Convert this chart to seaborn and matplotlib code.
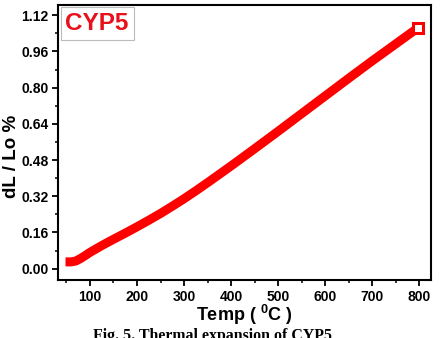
import numpy as np
import pandas as pd
import matplotlib
matplotlib.use("Agg")
import matplotlib.pyplot as plt
import seaborn as sns
from matplotlib.ticker import MultipleLocator

temp = [48, 60, 70, 80, 90, 100, 125, 150, 175, 200, 225, 250, 275, 300, 325,
        350, 375, 400, 450, 500, 550, 600, 650, 700, 750, 798]
dl = [0.030, 0.030, 0.034, 0.045, 0.058, 0.072, 0.102, 0.130, 0.157, 0.185,
      0.214, 0.244, 0.276, 0.309, 0.344, 0.380, 0.417, 0.454, 0.530, 0.607,
      0.685, 0.763, 0.841, 0.918, 0.993, 1.065]
x_ticks = [100, 200, 300, 400, 500, 600, 700, 800]
y_ticks = [0.00, 0.16, 0.32, 0.48, 0.64, 0.80, 0.96, 1.12]

sns.set_style("ticks")
plt.rcParams['font.family'] = ['Liberation Sans', 'DejaVu Sans']
plt.rcParams['mathtext.fontset'] = 'custom'
plt.rcParams['mathtext.rm'] = 'Liberation Sans:bold'
plt.rcParams['mathtext.bf'] = 'Liberation Sans:bold'
for k in ['text.color', 'axes.labelcolor', 'xtick.color', 'ytick.color', 'axes.edgecolor']:
    plt.rcParams[k] = 'black'

df = pd.DataFrame({"Temp": temp, "dL": dl})

fig = plt.figure(figsize=(4.44, 3.38), dpi=100)
ax = fig.add_axes([0.1306, 0.1716, 0.8401, 0.8136])

sns.lineplot(data=df, x="Temp", y="dL", ax=ax, color="#ff0000", linewidth=6.5,
             solid_capstyle="butt", solid_joinstyle="round")
ax.plot(temp[-1], dl[-1], marker="s", markersize=7, markerfacecolor="white",
        markeredgecolor="#ff0000", markeredgewidth=2.2, linestyle="none")

ax.set_xlim(32, 825)
ax.set_ylim(-0.05, 1.165)
ax.set_xticks(x_ticks)
ax.set_yticks(y_ticks)
ax.set_xticklabels([str(v) for v in x_ticks])
ax.set_yticklabels([f"{v:.2f}" for v in y_ticks])
ax.xaxis.set_minor_locator(MultipleLocator(50))
ax.yaxis.set_minor_locator(MultipleLocator(0.08))
ax.tick_params(axis='both', which='major', direction='out', length=4, width=1.3,
               labelsize=10, colors='black', pad=3)
ax.tick_params(axis='both', which='minor', direction='out', length=2.5, width=1.1)
for lab in ax.get_xticklabels() + ax.get_yticklabels():
    lab.set_fontweight('bold')
for sp in ax.spines.values():
    sp.set_visible(True)
    sp.set_linewidth(1.5)
    sp.set_color('black')

ax.set_xlabel(r"Temp ( $^{0}$C )", fontsize=13, fontweight='bold')
ax.xaxis.label.set_va('baseline')
ax.xaxis.set_label_coords(0.5, -0.149)
ax.set_ylabel("dL / Lo %", fontsize=13.5, fontweight='bold')
ax.yaxis.label.set_va('baseline')
ax.yaxis.set_label_coords(-0.113, 0.45)

ax.text(0.02, 0.975, "CYP5", transform=ax.transAxes, ha='left', va='top',
        fontsize=17.5, fontweight='bold', color='#e8101a',
        bbox=dict(boxstyle='square,pad=0.2', facecolor='white', edgecolor='#bbbbbb',
                  linewidth=0.8))

fig.text(0.478, -2.5 / 338, "Fig. 5. Thermal expansion of CYP5", ha='center', va='baseline',
         fontsize=11.4, fontweight='bold', family=['Liberation Serif', 'DejaVu Serif'])

fig.savefig("out.png", dpi=100)
